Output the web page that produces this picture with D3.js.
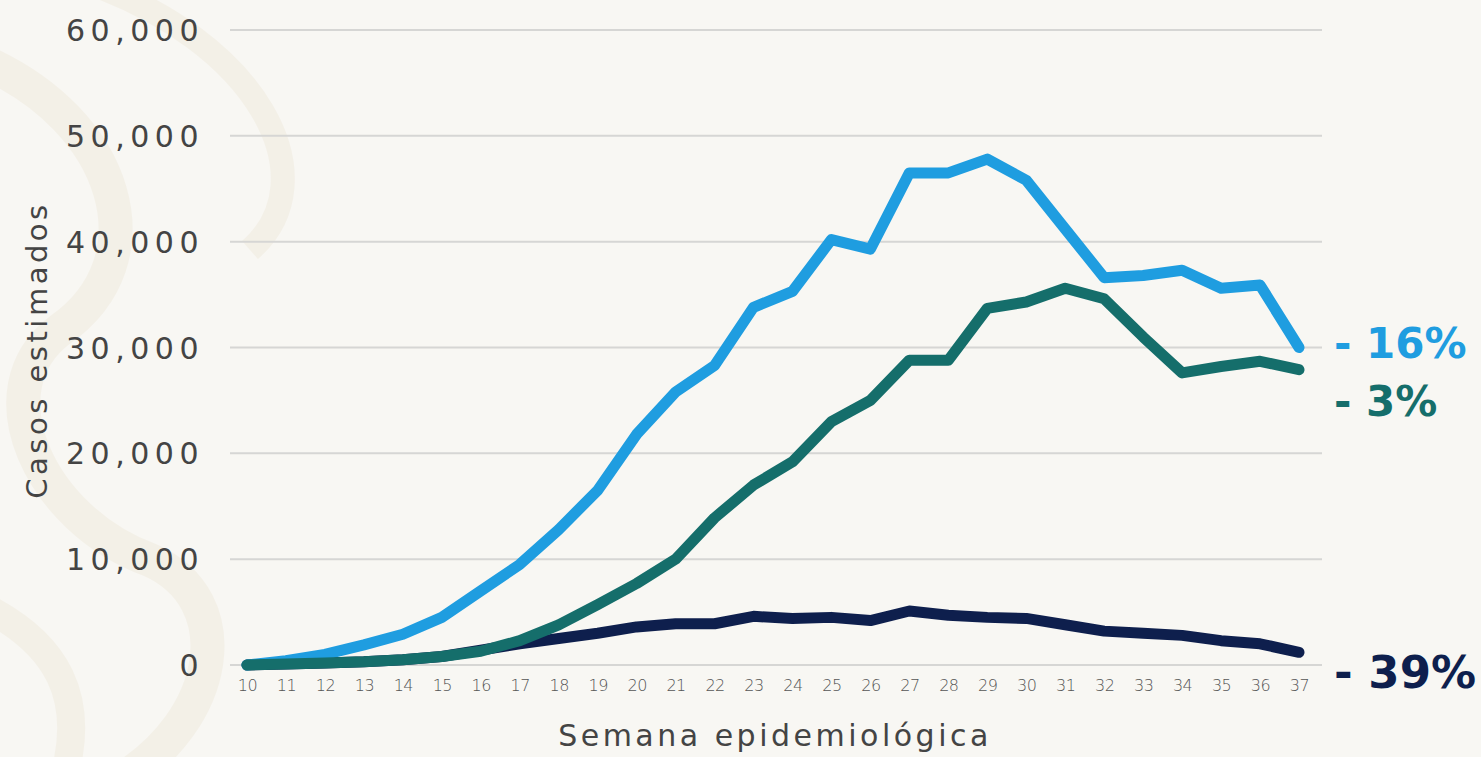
<!DOCTYPE html>
<html><head><meta charset="utf-8">
<script src="https://cdn.jsdelivr.net/npm/d3@7"></script>
<style>
html,body{margin:0;padding:0;background:#f8f7f3;}
svg{display:block;}
</style></head>
<body>
<svg id="chart" width="1481" height="757"></svg>
<script>
const weeks = [10,11,12,13,14,15,16,17,18,19,20,21,22,23,24,25,26,27,28,29,30,31,32,33,34,35,36,37];
const lightBlue = [0,400,1000,1900,2900,4500,7000,9500,12800,16500,21800,25800,28300,33800,35300,40200,39300,46500,46500,47800,45800,41200,36600,36800,37300,35600,35900,30000];
const teal = [0,100,200,300,500,800,1300,2300,3800,5700,7700,10000,13900,17000,19200,23000,25000,28800,28800,33700,34300,35600,34600,31000,27600,28200,28700,27900];
const navy = [0,100,200,300,500,800,1400,2000,2500,3000,3600,3900,3900,4600,4400,4500,4200,5100,4700,4500,4400,3800,3200,3000,2800,2300,2000,1200];
const yTicks = [0,10000,20000,30000,40000,50000,60000];
const endLabels = ["- 16%","- 3%","- 39%"];

const FONT = "'DejaVu Sans', Verdana, sans-serif";
const svg = d3.select("#chart");
// faint decorative background on the left
const bg = svg.append("g").attr("fill","none").attr("stroke","#f2eee4").attr("stroke-width",34).attr("opacity",0.75);
bg.append("path").attr("d","M-20,60 C120,120 160,260 60,330 C-20,390 40,520 150,560 C240,600 220,720 120,780");
bg.append("path").attr("d","M80,-20 C260,40 330,180 250,250").attr("stroke-width",24);
bg.append("path").attr("d","M-30,600 C60,640 90,700 60,790").attr("stroke-width",28);

const x = d3.scaleLinear().domain([10,37]).range([247,1299]);
const y = d3.scaleLinear().domain([0,60000]).range([665,30]);

// gridlines
svg.append("g").selectAll("line").data(yTicks).join("line")
  .attr("x1",230).attr("x2",1322)
  .attr("y1",d=>y(d)).attr("y2",d=>y(d))
  .attr("stroke","#d6d6d4").attr("stroke-width",2);

// y axis labels
const yAxis = d3.axisLeft(y).tickValues(yTicks).tickSize(0).tickPadding(0)
  .tickFormat(d3.format(","));
const yg = svg.append("g").attr("transform","translate(204,0)").call(yAxis);
yg.select(".domain").remove();
yg.selectAll("text").attr("font-family",FONT)
  .attr("font-size",30).attr("fill","#444").attr("dy","0.35em").attr("letter-spacing","5.5px");

// x axis labels
const xAxis = d3.axisBottom(x).tickValues(weeks).tickSize(0).tickPadding(0).tickFormat(d3.format("d"));
const xg = svg.append("g").attr("transform","translate(0,680)").call(xAxis);
xg.select(".domain").remove();
xg.selectAll("text").attr("font-family",FONT)
  .attr("font-size",16).attr("font-weight","300").attr("fill","#555").attr("letter-spacing","-0.5px");

// axis titles
svg.append("text").attr("transform","translate(47,350) rotate(-90)")
  .attr("text-anchor","middle").attr("font-family",FONT)
  .attr("font-size",29).attr("fill","#444").attr("letter-spacing","3.5px").text("Casos estimados");
svg.append("text").attr("x",775).attr("y",746)
  .attr("text-anchor","middle").attr("font-family",FONT)
  .attr("font-size",30).attr("fill","#444").attr("letter-spacing","3.5px").text("Semana epidemiológica");

const line = d3.line().x((d,i)=>x(weeks[i])).y(d=>y(d));
const series = [
  {vals:navy, color:"#0e1f4d"},
  {vals:lightBlue, color:"#1f9de0"},
  {vals:teal, color:"#156e6b"}
];
svg.append("g").selectAll("path").data(series).join("path")
  .attr("d",d=>line(d.vals)).attr("fill","none")
  .attr("stroke",d=>d.color).attr("stroke-width",11)
  .attr("stroke-linejoin","round").attr("stroke-linecap","round");

// end labels
const labelInfo = [
  {t:endLabels[0], yPos:358, color:"#1f9de0", size:42},
  {t:endLabels[1], yPos:416, color:"#156e6b", size:42},
  {t:endLabels[2], yPos:688, color:"#0e1f4d", size:45}
];
svg.append("g").selectAll("text").data(labelInfo).join("text")
  .attr("x",1334).attr("y",d=>d.yPos)
  .attr("font-family",FONT).attr("font-weight","bold")
  .attr("font-size",d=>d.size).attr("fill",d=>d.color).text(d=>d.t);
</script>
</body></html>
